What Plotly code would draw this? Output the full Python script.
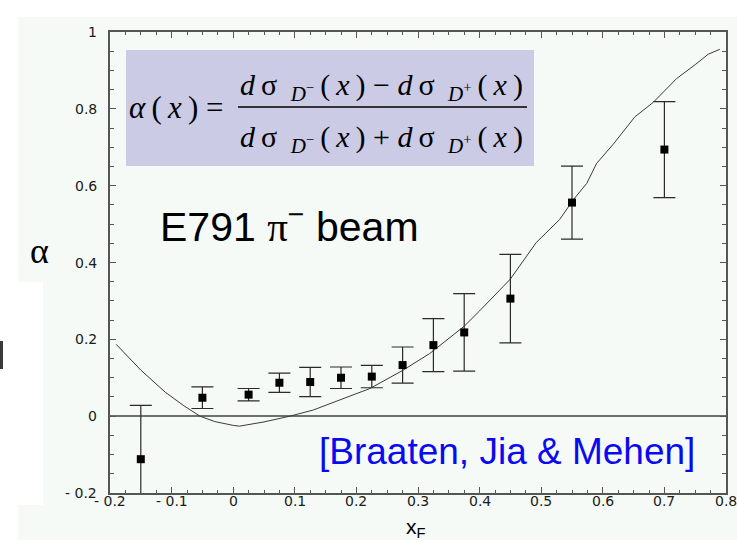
import plotly.graph_objects as go

# E791 pi- beam: D- / D+ production asymmetry versus x_F
xf = [-0.15, -0.05, 0.025, 0.075, 0.125, 0.175, 0.225, 0.275, 0.325, 0.375, 0.45, 0.55, 0.70]
alpha = [-0.112, 0.048, 0.056, 0.087, 0.089, 0.100, 0.103, 0.133, 0.185, 0.218, 0.306, 0.556, 0.694]
alpha_err = [0.14, 0.028, 0.016, 0.025, 0.038, 0.028, 0.029, 0.047, 0.069, 0.101, 0.115, 0.095, 0.125]

# heavy-quark recombination prediction
theory_x = [-0.19, -0.15, -0.11, -0.08, -0.054, -0.03, 0.0, 0.01, 0.05, 0.092, 0.13, 0.162,
            0.222, 0.274, 0.319, 0.375, 0.40, 0.45, 0.492, 0.53, 0.552, 0.574, 0.59, 0.617,
            0.652, 0.682, 0.72, 0.75, 0.771, 0.79]
theory_alpha = [0.187, 0.12, 0.062, 0.027, 0.0, -0.014, -0.024, -0.026, -0.015, 0.0, 0.016, 0.035,
                0.072, 0.118, 0.163, 0.234, 0.274, 0.357, 0.452, 0.512, 0.563, 0.606, 0.658, 0.708,
                0.779, 0.817, 0.879, 0.915, 0.942, 0.955]

x_tickvals = [-0.2, -0.1, 0, 0.1, 0.2, 0.3, 0.4, 0.5, 0.6, 0.7, 0.8]
x_ticktext = ["- 0.2", "- 0.1", "0", "0.1", "0.2", "0.3", "0.4", "0.5", "0.6", "0.7", "0.8"]
y_tickvals = [-0.2, 0, 0.2, 0.4, 0.6, 0.8, 1]
y_ticktext = ["- 0.2", "0", "0.2", "0.4", "0.6", "0.8", "1"]

W, H = 737, 541
L, R, T, B = 110, 11, 32, 48
PW, PH = W - L - R, H - T - B

BG = "#f5faf6"
BOX = "#cbcbe6"
AX = "#555555"
SANS = "Liberation Sans, Arial, sans-serif"
TICKS = "DejaVu Sans, Verdana, sans-serif"
SERIF = "Liberation Serif, Times New Roman, serif"


def px(x):
    return (x - L) / PW


def py(y):
    return (H - B - y) / PH


fig = go.Figure()

fig.add_trace(go.Scatter(
    x=theory_x, y=theory_alpha, mode="lines",
    line=dict(color="#3a3a3a", width=1),
    hoverinfo="skip", showlegend=False,
))

fig.add_trace(go.Scatter(
    x=xf, y=alpha, mode="markers",
    marker=dict(symbol="square", size=8, color="black"),
    error_y=dict(type="data", array=alpha_err, visible=True,
                 color="#2a2a2a", thickness=1.2, width=11),
    showlegend=False,
))

axis_common = dict(
    showline=True, linecolor=AX, linewidth=1.5, mirror="ticks",
    ticks="inside", ticklen=6, tickwidth=1, tickcolor=AX,
    showgrid=False, tickmode="array", showticklabels=False,
)

fig.update_xaxes(
    range=[-0.2, 0.8], tickvals=x_tickvals,
    zeroline=False,
    minor=dict(tickmode="linear", tick0=-0.2, dtick=0.025, ticks="inside",
               ticklen=3, tickcolor=AX),
    **axis_common,
)
fig.update_yaxes(
    range=[-0.2, 1.0], tickvals=y_tickvals,
    zeroline=True, zerolinecolor="#707070", zerolinewidth=1.5,
    minor=dict(tickmode="linear", tick0=-0.2, dtick=0.05, ticks="inside",
               ticklen=4, tickcolor=AX),
    **axis_common,
)

shapes = [
    # page backdrop
    dict(type="rect", xref="paper", yref="paper", layer="below",
         x0=px(18), x1=px(737), y0=py(540), y1=py(17),
         fillcolor=BG, line=dict(width=0)),
    # white panel at the far left
    dict(type="rect", xref="paper", yref="paper", layer="below",
         x0=px(0), x1=px(43), y0=py(505), y1=py(282),
         fillcolor="white", line=dict(width=0)),
    # dark edge mark on the white panel
    dict(type="rect", xref="paper", yref="paper", layer="above",
         x0=px(0), x1=px(3), y0=py(369), y1=py(341),
         fillcolor="#3a3a3a", line=dict(width=0)),
    # formula box
    dict(type="rect", xref="paper", yref="paper", layer="above",
         x0=px(126), x1=px(534), y0=py(166), y1=py(50),
         fillcolor=BOX, line=dict(width=0)),
    # fraction bar
    dict(type="line", xref="paper", yref="paper", layer="above",
         x0=px(238), x1=px(527), y0=py(107), y1=py(107),
         line=dict(color="black", width=1.5)),
]


def note(text, x, y, size, family=SANS, color="black", xanchor="center", yanchor="middle"):
    return dict(text=text, x=px(x), y=py(y), xref="paper", yref="paper",
                xanchor=xanchor, yanchor=yanchor, showarrow=False,
                font=dict(family=family, size=size, color=color))


SP = "\u2009"
num = (f"<i>d</i>{SP}σ{SP} <sub><i>D</i><sup>−</sup></sub>{SP}({SP}<i>x</i>{SP}) − "
       f"<i>d</i>{SP}σ{SP} <sub><i>D</i><sup>+</sup></sub>{SP}({SP}<i>x</i>{SP})")
den = (f"<i>d</i>{SP}σ{SP} <sub><i>D</i><sup>−</sup></sub>{SP}({SP}<i>x</i>{SP}) + "
       f"<i>d</i>{SP}σ{SP} <sub><i>D</i><sup>+</sup></sub>{SP}({SP}<i>x</i>{SP})")

annotations = [
    note(f"<i>α</i>{SP}({SP}<i>x</i>{SP}) =", 127, 107, 31, SERIF, xanchor="left"),
    note(num, 381, 87, 30, SERIF),
    note(den, 381, 139, 30, SERIF),
    note("E791 <span style='font-family:Liberation Serif'>π</span><sup>−</sup> beam", 289, 224, 41),
    note("[Braaten, Jia &amp; Mehen]", 507, 451, 37, color="#0a0af0"),
    note("α", 39, 251, 36, SERIF),
    note("x<sub>F</sub>", 404, 528, 21, xanchor="left"),
]

# tick labels placed on the axis scales, a little away from the frame
tick_font = dict(family=TICKS, size=14, color="#1a1a1a")
for v, t in zip(x_tickvals, x_ticktext):
    annotations.append(dict(text=t, x=v, xref="x", y=py(501), yref="paper",
                            xanchor="center", yanchor="middle", showarrow=False,
                            font=tick_font))
for v, t in zip(y_tickvals, y_ticktext):
    annotations.append(dict(text=t, x=px(99), xref="paper", y=v, yref="y",
                            xanchor="right", yanchor="middle", showarrow=False,
                            font=tick_font))

fig.update_layout(
    width=W, height=H,
    margin=dict(l=L, r=R, t=T, b=B, pad=0, autoexpand=False),
    paper_bgcolor="white", plot_bgcolor=BG,
    shapes=shapes, annotations=annotations,
    showlegend=False,
)

fig.write_html("out.html")
